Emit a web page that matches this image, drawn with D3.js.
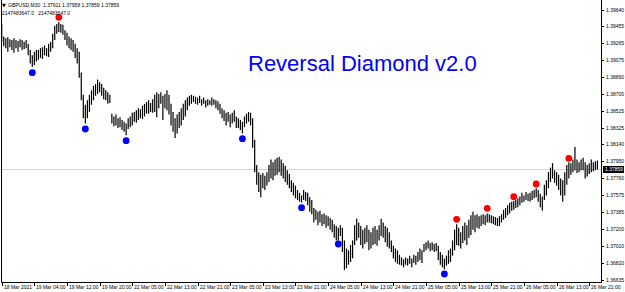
<!DOCTYPE html>
<html>
<head>
<meta charset="utf-8">
<script src="https://cdn.jsdelivr.net/npm/d3@7"></script>
<style>
  body { margin: 0; background: #fff; }
  svg { display: block; font-family: "Liberation Sans", Arial, sans-serif; }
</style>
</head>
<body>
<div id="chart"></div>
<script>
// GBPUSD M30 bars (high / low per bar)
let highs = [
  1.3948, 1.3934, 1.3932, 1.3933, 1.3931, 1.3930, 1.3932, 1.3930, 1.3929, 1.3931,
  1.3930, 1.3928, 1.3930, 1.3926, 1.3919, 1.3913, 1.3917, 1.3919, 1.3919, 1.3921,
  1.3922, 1.3924, 1.3921, 1.3926, 1.3928, 1.3937, 1.3946, 1.3948, 1.3950, 1.3948,
  1.3947, 1.3941, 1.3938, 1.3934, 1.3932, 1.3930, 1.3926, 1.3921, 1.3917, 1.3894,
  1.3869, 1.3858, 1.3863, 1.3869, 1.3874, 1.3879, 1.3881, 1.3886, 1.3883, 1.3881,
  1.3877, 1.3874, 1.3872, 1.3869, 1.3848, 1.3845, 1.3847, 1.3843, 1.3844, 1.3841,
  1.3839, 1.3837, 1.3843, 1.3845, 1.3849, 1.3850, 1.3852, 1.3854, 1.3853, 1.3857,
  1.3859, 1.3861, 1.3863, 1.3860, 1.3864, 1.3869, 1.3872, 1.3870, 1.3872, 1.3868,
  1.3870, 1.3874, 1.3869, 1.3859, 1.3850, 1.3843, 1.3847, 1.3850, 1.3854, 1.3859,
  1.3863, 1.3866, 1.3868, 1.3869, 1.3868, 1.3867, 1.3866, 1.3868, 1.3864, 1.3866,
  1.3863, 1.3864, 1.3863, 1.3866, 1.3864, 1.3863, 1.3862, 1.3859, 1.3854, 1.3852,
  1.3849, 1.3850, 1.3847, 1.3849, 1.3852, 1.3845, 1.3843, 1.3841, 1.3839, 1.3845,
  1.3848, 1.3850, 1.3849, 1.3843, 1.3819, 1.3791, 1.3783, 1.3780, 1.3782, 1.3779,
  1.3783, 1.3791, 1.3797, 1.3794, 1.3797, 1.3799, 1.3800, 1.3797, 1.3793, 1.3790,
  1.3785, 1.3781, 1.3774, 1.3771, 1.3768, 1.3763, 1.3760, 1.3757, 1.3763, 1.3761,
  1.3760, 1.3755, 1.3752, 1.3743, 1.3741, 1.3739, 1.3740, 1.3736, 1.3737, 1.3735,
  1.3734, 1.3732, 1.3730, 1.3725, 1.3723, 1.3721, 1.3724, 1.3721, 1.3707, 1.3698,
  1.3696, 1.3702, 1.3707, 1.3724, 1.3731, 1.3727, 1.3723, 1.3719, 1.3721, 1.3724,
  1.3719, 1.3716, 1.3721, 1.3723, 1.3719, 1.3724, 1.3731, 1.3727, 1.3723, 1.3721,
  1.3716, 1.3707, 1.3701, 1.3698, 1.3696, 1.3691, 1.3688, 1.3686, 1.3688, 1.3687,
  1.3690, 1.3687, 1.3691, 1.3690, 1.3694, 1.3698, 1.3696, 1.3703, 1.3705, 1.3707,
  1.3704, 1.3705, 1.3703, 1.3704, 1.3701, 1.3694, 1.3691, 1.3687, 1.3690, 1.3696,
  1.3698, 1.3707, 1.3719, 1.3725, 1.3721, 1.3716, 1.3723, 1.3727, 1.3724, 1.3730,
  1.3735, 1.3739, 1.3735, 1.3736, 1.3734, 1.3735, 1.3736, 1.3735, 1.3737, 1.3736,
  1.3735, 1.3734, 1.3733, 1.3732, 1.3734, 1.3736, 1.3741, 1.3743, 1.3746, 1.3749,
  1.3750, 1.3751, 1.3752, 1.3754, 1.3756, 1.3760, 1.3757, 1.3761, 1.3759, 1.3760,
  1.3762, 1.3763, 1.3765, 1.3763, 1.3759, 1.3756, 1.3769, 1.3774, 1.3783, 1.3788,
  1.3793, 1.3785, 1.3783, 1.3780, 1.3776, 1.3774, 1.3783, 1.3791, 1.3794, 1.3793,
  1.3797, 1.3811, 1.3797, 1.3794, 1.3797, 1.3799, 1.3794, 1.3791, 1.3793, 1.3797,
  1.3794, 1.3795, 1.3796
];

let lows = [
  1.3928, 1.3923, 1.3921, 1.3917, 1.3922, 1.3919, 1.3916, 1.3921, 1.3917, 1.3922,
  1.3919, 1.3920, 1.3921, 1.3913, 1.3904, 1.3900, 1.3902, 1.3906, 1.3908, 1.3910,
  1.3909, 1.3913, 1.3912, 1.3911, 1.3917, 1.3921, 1.3930, 1.3937, 1.3939, 1.3938,
  1.3936, 1.3930, 1.3924, 1.3921, 1.3919, 1.3917, 1.3910, 1.3904, 1.3888, 1.3863,
  1.3843, 1.3837, 1.3843, 1.3850, 1.3858, 1.3863, 1.3868, 1.3870, 1.3872, 1.3868,
  1.3864, 1.3863, 1.3859, 1.3860, 1.3837, 1.3834, 1.3835, 1.3832, 1.3833, 1.3830,
  1.3828, 1.3824, 1.3831, 1.3833, 1.3835, 1.3839, 1.3838, 1.3841, 1.3843, 1.3842,
  1.3845, 1.3848, 1.3848, 1.3850, 1.3849, 1.3850, 1.3844, 1.3854, 1.3859, 1.3841,
  1.3854, 1.3852, 1.3847, 1.3835, 1.3828, 1.3821, 1.3826, 1.3832, 1.3835, 1.3841,
  1.3845, 1.3852, 1.3857, 1.3859, 1.3861, 1.3859, 1.3858, 1.3860, 1.3857, 1.3859,
  1.3855, 1.3857, 1.3858, 1.3857, 1.3858, 1.3854, 1.3852, 1.3848, 1.3843, 1.3840,
  1.3835, 1.3839, 1.3833, 1.3837, 1.3839, 1.3832, 1.3832, 1.3830, 1.3826, 1.3833,
  1.3837, 1.3839, 1.3835, 1.3810, 1.3783, 1.3769, 1.3761, 1.3755, 1.3765, 1.3763,
  1.3768, 1.3772, 1.3776, 1.3774, 1.3779, 1.3780, 1.3783, 1.3779, 1.3776, 1.3772,
  1.3769, 1.3765, 1.3761, 1.3757, 1.3754, 1.3752, 1.3750, 1.3749, 1.3752, 1.3751,
  1.3746, 1.3739, 1.3736, 1.3727, 1.3730, 1.3724, 1.3727, 1.3723, 1.3725, 1.3721,
  1.3723, 1.3719, 1.3716, 1.3710, 1.3707, 1.3707, 1.3712, 1.3694, 1.3674, 1.3676,
  1.3680, 1.3683, 1.3687, 1.3702, 1.3707, 1.3710, 1.3702, 1.3698, 1.3703, 1.3705,
  1.3696, 1.3698, 1.3702, 1.3703, 1.3701, 1.3707, 1.3712, 1.3710, 1.3705, 1.3700,
  1.3698, 1.3694, 1.3687, 1.3683, 1.3681, 1.3680, 1.3679, 1.3677, 1.3680, 1.3679,
  1.3681, 1.3677, 1.3682, 1.3680, 1.3683, 1.3685, 1.3682, 1.3694, 1.3696, 1.3698,
  1.3695, 1.3696, 1.3694, 1.3695, 1.3685, 1.3680, 1.3677, 1.3675, 1.3679, 1.3681,
  1.3683, 1.3690, 1.3696, 1.3702, 1.3701, 1.3698, 1.3704, 1.3707, 1.3702, 1.3710,
  1.3713, 1.3719, 1.3716, 1.3721, 1.3720, 1.3723, 1.3725, 1.3724, 1.3727, 1.3727,
  1.3726, 1.3725, 1.3724, 1.3723, 1.3723, 1.3727, 1.3730, 1.3732, 1.3735, 1.3737,
  1.3740, 1.3741, 1.3743, 1.3744, 1.3746, 1.3749, 1.3750, 1.3752, 1.3751, 1.3750,
  1.3752, 1.3754, 1.3755, 1.3750, 1.3744, 1.3740, 1.3752, 1.3757, 1.3765, 1.3772,
  1.3776, 1.3771, 1.3768, 1.3763, 1.3757, 1.3750, 1.3757, 1.3769, 1.3776, 1.3780,
  1.3783, 1.3785, 1.3782, 1.3783, 1.3785, 1.3785, 1.3776, 1.3778, 1.3781, 1.3783,
  1.3784, 1.3785, 1.3786
];

// Reversal Diamond signals: bar index + price where the diamond sits
let buyBars = [15, 41, 61, 118, 147, 165, 217];
let buyPrices = [1.38937, 1.38310, 1.38180, 1.38202, 1.37434, 1.37030, 1.36696];
let sellBars = [28, 223, 238, 251, 262, 278];
let sellPrices = [1.39553, 1.37305, 1.37427, 1.37556, 1.37698, 1.37984];

let priceTicks = [1.39640, 1.39455, 1.39265, 1.39075, 1.38890, 1.38700, 1.38515, 1.38325, 1.38140,
  1.37950, 1.37760, 1.37575, 1.37385, 1.37200, 1.37010, 1.36820, 1.36635];

let timeLabels = ["18 Mar 2021", "19 Mar 04:00", "19 Mar 12:00", "19 Mar 20:00", "22 Mar 05:00",
  "22 Mar 13:00", "22 Mar 21:00", "23 Mar 05:00", "23 Mar 13:00", "23 Mar 21:00", "24 Mar 05:00",
  "24 Mar 13:00", "24 Mar 21:00", "25 Mar 05:00", "25 Mar 13:00", "25 Mar 21:00", "26 Mar 05:00",
  "26 Mar 13:00", "26 Mar 21:00"];
let barsPerLabel = 16;

let symbolLine = "GBPUSD,M30  1.37911 1.37958 1.37859 1.37859";
let bufferLine = "2147483647.0   2147483647.0";
let lastPrice = 1.37859;

// layout
let width = 625,
    height = 292,
    plotRight = 601,
    plotBottom = 282;

let x = d3.scaleLinear()
    .domain([0, highs.length - 1])
    .range([1.7, 597.4]);

let y = d3.scaleLinear()
    .domain([d3.min(priceTicks), d3.max(priceTicks)])
    .range([279.5, 9.5]);

let svg = d3.select("#chart")
    .append("svg")
    .attr("width", width)
    .attr("height", height);

// current price line
svg.append("line")
    .attr("x1", 1).attr("x2", plotRight)
    .attr("y1", y(lastPrice)).attr("y2", y(lastPrice))
    .attr("stroke", "#d4d4d4")
    .attr("stroke-width", 1);

// bars (high-low)
svg.append("g")
    .selectAll("line")
    .data(highs)
    .join("line")
    .attr("x1", (d, i) => x(i))
    .attr("x2", (d, i) => x(i))
    .attr("y1", d => y(d))
    .attr("y2", (d, i) => y(lows[i]))
    .attr("stroke", "#000")
    .attr("stroke-width", 1.2);

// frame
svg.append("path")
    .attr("d", `M1.5,0 V${plotBottom + 0.5} H${plotRight + 0.5} V0`)
    .attr("fill", "none")
    .attr("stroke", "#000")
    .attr("stroke-width", 1);

// price axis
let yAxis = svg.append("g").attr("font-size", "5px");
priceTicks.forEach(p => {
    let ty = Math.round(y(p)) + 0.5;
    yAxis.append("line")
        .attr("x1", plotRight).attr("x2", plotRight + 3)
        .attr("y1", ty).attr("y2", ty)
        .attr("stroke", "#000");
    yAxis.append("text")
        .attr("x", plotRight + 5)
        .attr("y", ty + 1.8)
        .attr("fill", "#000")
        .text(p.toFixed(5));
});

// last price tag
let tagY = y(lastPrice);
svg.append("rect")
    .attr("x", plotRight + 2).attr("y", tagY - 3.5)
    .attr("width", 21).attr("height", 7)
    .attr("fill", "#000");
svg.append("text")
    .attr("x", plotRight + 4).attr("y", tagY + 1.8)
    .attr("font-size", "5px")
    .attr("fill", "#fff")
    .text(lastPrice.toFixed(5));

// time axis
let xAxis = svg.append("g").attr("font-size", "5px");
timeLabels.forEach((t, k) => {
    let tx = Math.round(x(k * barsPerLabel)) + 0.5;
    xAxis.append("line")
        .attr("x1", tx).attr("x2", tx)
        .attr("y1", plotBottom).attr("y2", plotBottom + 4)
        .attr("stroke", "#000");
    xAxis.append("text")
        .attr("x", tx + 1.5)
        .attr("y", plotBottom + 6.5)
        .attr("fill", "#000")
        .text(t);
});

// signal diamonds
svg.append("g")
    .selectAll("circle")
    .data(buyBars)
    .join("circle")
    .attr("cx", d => x(d))
    .attr("cy", (d, i) => y(buyPrices[i]))
    .attr("r", 3.4)
    .attr("fill", "#0000ff");

svg.append("g")
    .selectAll("circle")
    .data(sellBars)
    .join("circle")
    .attr("cx", d => x(d))
    .attr("cy", (d, i) => y(sellPrices[i]))
    .attr("r", 3.4)
    .attr("fill", "#ff0000");

// header
svg.append("text")
    .attr("x", 2).attr("y", 7)
    .attr("font-size", "5px")
    .attr("font-family", "'DejaVu Sans', sans-serif")
    .text("\u25BC");
svg.append("text")
    .attr("x", 8).attr("y", 7)
    .attr("font-size", "5px")
    .style("white-space", "pre")
    .text(symbolLine);
svg.append("text")
    .attr("x", 2).attr("y", 14.5)
    .attr("font-size", "5px")
    .style("white-space", "pre")
    .text(bufferLine);

// title
svg.append("text")
    .attr("x", 248).attr("y", 71)
    .attr("font-size", "22px")
    .attr("fill", "#0000ff")
    .text("Reversal Diamond v2.0");
</script>
</body>
</html>
